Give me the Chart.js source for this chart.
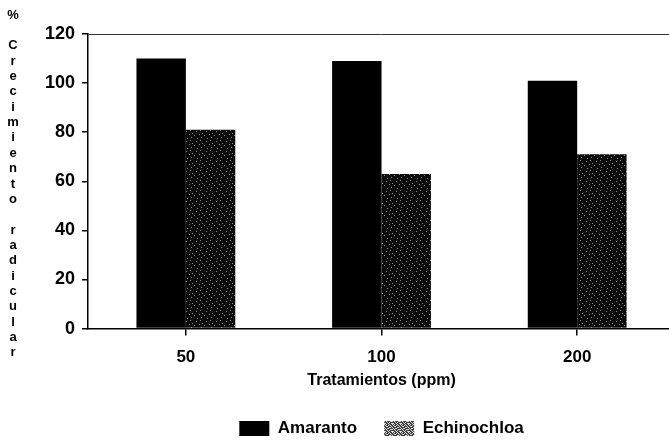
<!DOCTYPE html>
<html>
<head>
<meta charset="utf-8">
<script src="https://cdn.jsdelivr.net/npm/chart.js@4/dist/chart.umd.min.js"></script>
<style>
  html, body { margin: 0; padding: 0; background: #fff; overflow: hidden; }
  #wrap { width: 675px; height: 440px; }
</style>
</head>
<body>
<div id="wrap"><canvas id="c" width="675" height="440"></canvas></div>
<script>
// Root growth (%) by treatment concentration
const categories = ['50', '100', '200'];
const amaranto = [110, 109, 101];
const echinochloa = [81, 63, 71];
const seriesNames = ['Amaranto', 'Echinochloa'];
const yTicks = [0, 20, 40, 60, 80, 100, 120];
const yTitle = '% Crecimiento radicular';
const xTitle = 'Tratamientos (ppm)';

const FONT = '"Liberation Sans", Arial, sans-serif';

// Speckled fill built from a small tile
function makePattern(base, dot, rows) {
  const size = rows.length;
  const tile = document.createElement('canvas');
  tile.width = size; tile.height = size;
  const t = tile.getContext('2d');
  t.fillStyle = base;
  t.fillRect(0, 0, size, size);
  t.fillStyle = dot;
  rows.forEach((row, y) => {
    for (let x = 0; x < row.length; x++) {
      if (row[x] === '1') t.fillRect(x, y, 1, 1);
    }
  });
  return t.createPattern(tile, 'repeat');
}

const barTile = [
  '1000000000',
  '0000001000',
  '0000000000',
  '0010000000',
  '0000000001',
  '0000100000',
  '0000000000',
  '0100000000',
  '0000000100',
  '0000000000'
];
const legendTile = [
  '10100100',
  '01001010',
  '00110001',
  '10000110',
  '01011000',
  '10100011',
  '00010100',
  '11001001'
];

const ctx = document.getElementById('c').getContext('2d');
const echinoFill = makePattern('#0c0c0c', '#8c8c8c', barTile);
const echinoLegendFill = makePattern('#3a3a3a', '#e0e0e0', legendTile);

// Stacked-letter axis title and top frame line
const framePlugin = {
  id: 'frame',
  afterDraw(chart) {
    const { ctx, chartArea } = chart;
    ctx.save();
    ctx.strokeStyle = '#333';
    ctx.lineWidth = 1;
    ctx.beginPath();
    ctx.moveTo(chartArea.left, chartArea.top + 0.5);
    ctx.lineTo(chartArea.right, chartArea.top + 0.5);
    ctx.stroke();

    ctx.fillStyle = '#000';
    ctx.font = 'bold 13px ' + FONT;
    ctx.textAlign = 'center';
    ctx.textBaseline = 'middle';
    const chars = Array.from(yTitle);
    const y0 = 15, step = 15.36;
    chars.forEach((ch, i) => {
      if (ch !== ' ') ctx.fillText(ch, 13, y0 + i * step);
    });
    ctx.restore();
  }
};

new Chart(ctx, {
  type: 'bar',
  data: {
    labels: categories,
    datasets: [
      {
        label: seriesNames[0],
        data: amaranto,
        backgroundColor: '#000',
        borderWidth: 0,
        barPercentage: 1.0,
        categoryPercentage: 0.505
      },
      {
        label: seriesNames[1],
        data: echinochloa,
        backgroundColor: echinoFill,
        borderWidth: 0,
        barPercentage: 1.0,
        categoryPercentage: 0.505
      }
    ]
  },
  options: {
    responsive: false,
    animation: false,
    layout: { padding: { left: 38, right: 0, top: 34, bottom: 0 } },
    scales: {
      x: {
        grid: {
          display: true,
          drawOnChartArea: false,
          offset: false,
          tickLength: 7,
          color: '#000',
          lineWidth: 1.5
        },
        border: { color: '#000', width: 1.5 },
        ticks: {
          color: '#000',
          font: { family: FONT, size: 17, weight: 'bold' },
          padding: 12
        },
        title: {
          display: true,
          text: xTitle,
          color: '#000',
          font: { family: FONT, size: 16, weight: 'bold', lineHeight: 1.0 },
          padding: { top: -7, bottom: 4 }
        }
      },
      y: {
        min: 0,
        max: 120,
        afterBuildTicks(scale) { scale.ticks = yTicks.map(v => ({ value: v })); },
        grid: {
          display: true,
          drawOnChartArea: false,
          tickLength: 6,
          color: '#000',
          lineWidth: 1.5
        },
        border: { color: '#000', width: 1.5 },
        ticks: {
          color: '#000',
          font: { family: FONT, size: 18, weight: 'bold' },
          padding: 7
        }
      }
    },
    plugins: {
      tooltip: { enabled: false },
      legend: {
        position: 'bottom',
        fullSize: false,
        maxHeight: 47,
        labels: {
          color: '#000',
          font: { family: FONT, size: 17, weight: 'bold' },
          boxWidth: 30,
          boxHeight: 15,
          padding: 27,
          generateLabels(chart) {
            const items = Chart.defaults.plugins.legend.labels.generateLabels(chart);
            items.forEach(it => {
              it.lineWidth = 0;
              if (it.datasetIndex === 1) it.fillStyle = echinoLegendFill;
            });
            return items;
          }
        }
      }
    }
  },
  plugins: [framePlugin]
});
</script>
</body>
</html>
